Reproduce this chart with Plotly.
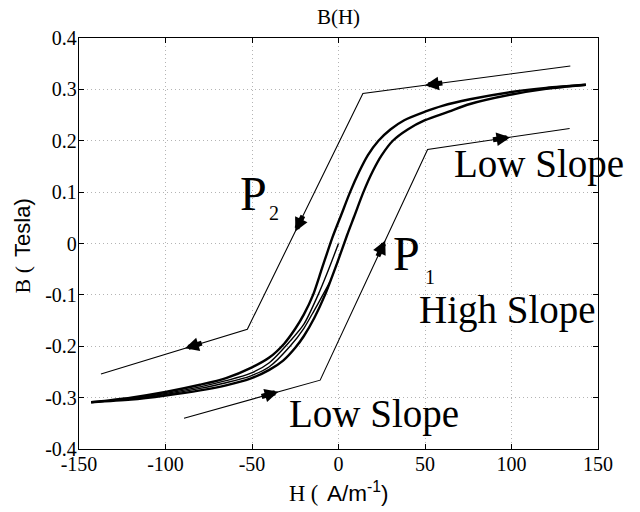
import plotly.graph_objects as go

# ---------------- data ----------------
# descending (upper/left) branch of the major loop
H_desc = [143, 120, 100, 76, 60, 50, 38, 30, 23.1, 17, 12, 6.7, 1.5, -3.7, -9.6, -14.7, -20, -25, -31.4, -40, -50, -65, -80, -100, -120, -143]
B_desc = [0.309, 0.303, 0.295, 0.2807, 0.268, 0.2566, 0.240, 0.222, 0.200, 0.172, 0.140, 0.100, 0.055, 0.010, -0.049, -0.100, -0.138, -0.166, -0.195, -0.222, -0.241, -0.262, -0.275, -0.289, -0.300, -0.309]

# ascending (lower/right) branch of the major loop
H_asc = [-143, -120, -100, -80, -65, -51, -40, -32, -25, -20, -14, -7.8, -1, 5, 9, 14.4, 20, 25, 31.4, 40, 50, 63.7, 76, 100, 120, 143]
B_asc = [-0.309, -0.304, -0.296, -0.286, -0.276, -0.263, -0.246, -0.228, -0.203, -0.180, -0.145, -0.100, -0.040, 0.0165, 0.052, 0.100, 0.142, 0.172, 0.200, 0.222, 0.240, 0.2566, 0.2715, 0.290, 0.301, 0.309]

# initial curve from the origin
H_init = [0, -5.9, -11.8, -20, -28, -40, -51, -65, -80, -100, -120, -143]
B_init = [0, -0.052, -0.100, -0.157, -0.190, -0.232, -0.253, -0.267, -0.279, -0.292, -0.302, -0.309]

# first ascending pass (merges into the ascending branch)
H_first = [-143, -120, -100, -80, -65, -51, -40, -28, -20, -14, -10, -5]
B_first = [-0.309, -0.303, -0.294, -0.282, -0.271, -0.258, -0.240, -0.200, -0.165, -0.130, -0.106, -0.075]

# piecewise-linear paths P2 (descending) and P1 (ascending)
P2_H = [134, 14.1, -52.7, -137.3]
P2_B = [0.3455, 0.292, -0.167, -0.254]
P1_H = [-89.3, -10.6, 51.5, 133.6]
P1_B = [-0.340, -0.266, 0.183, 0.224]

# arrow tips on the paths: (segment index, H of tip)
P2_arrows = [(0, 50.0), (1, -25.0), (2, -88.7)]
P1_arrows = [(0, -34.7), (1, 27.0), (2, 99.3)]

x_ticks = [-150, -100, -50, 0, 50, 100, 150]
x_ticktext = ["-150", "-100", "-50", "0", "50", "100", "150"]
y_ticks = [-0.4, -0.3, -0.2, -0.1, 0, 0.1, 0.2, 0.3, 0.4]
y_ticktext = ["-0.4", "-0.3", "-0.2", "-0.1", "0", "0.1", "0.2", "0.3", "0.4"]

# ---------------- layout constants ----------------
# the page body has an 8px margin, so the figure is 8px smaller and margins are shifted
W, Hgt = 632, 504
ML, MR, MT, MB = 71, 42, 30, 63
XR = [-150, 150]
YR = [-0.4, 0.4]
SERIF = "Liberation Serif"
SANS = "Liberation Sans"

fig = go.Figure()

thick = dict(color="black", width=2.4)
thin = dict(color="black", width=1.4)

for hx, by, ln in [(H_desc, B_desc, thick), (H_asc, B_asc, thick),
                   (H_init, B_init, thin), (H_first, B_first, thin)]:
    fig.add_trace(go.Scatter(x=hx, y=by, mode="lines",
                             line=dict(shape="spline", smoothing=0.8, **ln),
                             showlegend=False, hoverinfo="skip"))

fig.add_trace(go.Scatter(x=P2_H, y=P2_B, mode="lines", line=dict(color="black", width=1.1), showlegend=False, hoverinfo="skip"))
fig.add_trace(go.Scatter(x=P1_H, y=P1_B, mode="lines", line=dict(color="black", width=1.1), showlegend=False, hoverinfo="skip"))

# arrows along the paths
sx = (W - ML - MR) / (XR[1] - XR[0])
sy = (Hgt - MT - MB) / (YR[1] - YR[0])
L = 19
annotations = []
for PH, PB, arrows in [(P2_H, P2_B, P2_arrows), (P1_H, P1_B, P1_arrows)]:
    for seg, tipH in arrows:
        h0, h1 = PH[seg], PH[seg + 1]
        b0, b1 = PB[seg], PB[seg + 1]
        t = (tipH - h0) / (h1 - h0)
        tipB = b0 + t * (b1 - b0)
        dx = (h1 - h0) * sx
        dy = -(b1 - b0) * sy
        n = (dx * dx + dy * dy) ** 0.5
        annotations.append(dict(
            x=tipH, y=tipB, xref="x", yref="y", text="", showarrow=True,
            ax=-dx / n * L, ay=-dy / n * L, arrowhead=2, arrowsize=0.55,
            arrowwidth=5, arrowcolor="black", standoff=0, startstandoff=0,
        ))

def label(text, x, y, size, family=SERIF, ref="x", **kw):
    d = dict(text=text, x=x, y=y, xref=ref if ref == "x" else "paper",
             yref="y" if ref == "x" else "paper", showarrow=False,
             font=dict(family=family, size=size, color="black"),
             xanchor="center", yanchor="middle")
    d.update(kw)
    annotations.append(d)

label("P", -49.4, 0.097, 48)
label("2", -37.2, 0.060, 20)
label("P", 39.1, -0.0185, 48)
label("1", 52.6, -0.065, 20)
label("Low Slope", 116, 0.154, 39)
label("High Slope", 97.8, -0.129, 39)
label("Low Slope", 20.6, -0.332, 39)

# axis titles: serif "B (" / "H (" followed by sans text, as in the original
label("H (", (303.5 - 79) / 518.7, -0.1436, 22.5, SERIF, ref="paper", yanchor="bottom")
label("A/m<sup>-1</sup>)", (357.5 - 79) / 518.7, -0.1436, 22.5, SANS, ref="paper", yanchor="bottom")
label("B (", -0.109, 0.4136, 22, SERIF, ref="paper", textangle=-90)
label("Tesla)", -0.109, 0.539, 22, SANS, ref="paper", textangle=-90)

axis_common = dict(
    showline=True, linecolor="black", linewidth=1.3, mirror="ticks",
    ticks="inside", ticklen=5, tickwidth=1, tickcolor="black",
    showgrid=True, gridcolor="#b4b4b4", gridwidth=1, griddash="1px,3px",
    zeroline=False, tickfont=dict(family=SERIF, size=20, color="black"),
    automargin=False, fixedrange=True,
)

fig.update_layout(
    width=W, height=Hgt,
    margin=dict(l=ML, r=MR, t=MT, b=MB),
    paper_bgcolor="white", plot_bgcolor="white",
    title=dict(text="B(H)", x=0.5, xref="paper", xanchor="center",
               y=1 - 9 / Hgt, yref="container", yanchor="middle",
               font=dict(family=SERIF, size=21, color="black")),
    xaxis=dict(range=XR, tickvals=x_ticks, ticktext=x_ticktext, ticklabelstandoff=-3, **axis_common),
    yaxis=dict(range=YR, tickvals=y_ticks, ticktext=y_ticktext, ticklabelstandoff=-3, **axis_common),
    annotations=annotations,
    showlegend=False,
)

fig.write_html("out.html")
